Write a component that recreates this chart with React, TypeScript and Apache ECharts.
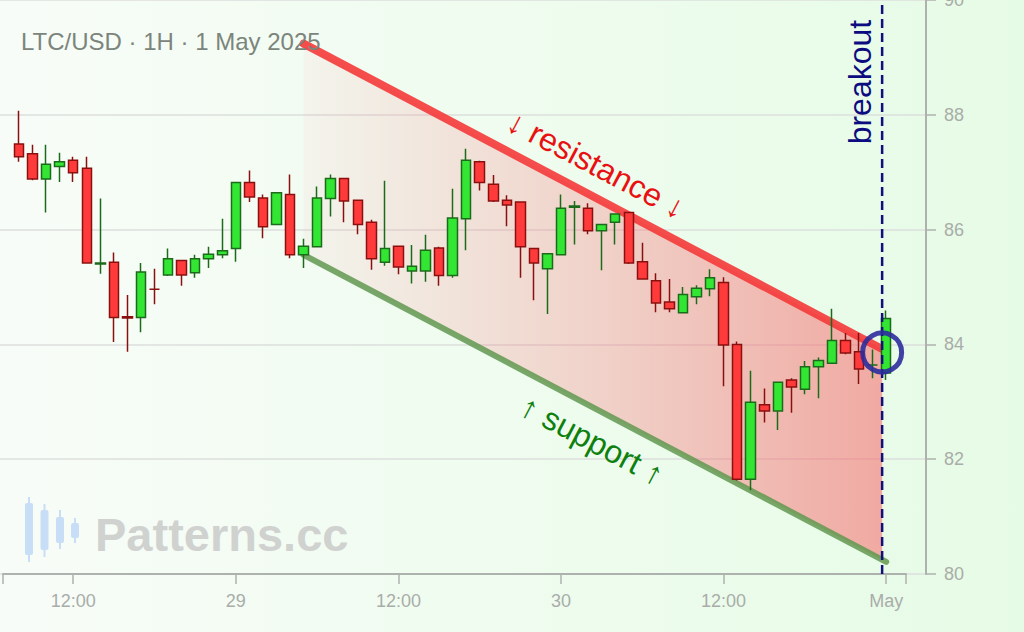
import React, { useEffect, useRef } from 'react'
import * as echarts from 'echarts'

// hourly candles, first one is 28 Apr 2025 08:00 (local time)
const START = new Date(2025, 3, 28, 8, 0, 0).getTime()
const HOUR = 3600 * 1000

const opens = [
  87.49, 87.32, 86.88, 87.10, 87.21, 87.07, 85.40, 85.43, 84.48, 84.47,
  84.96, 85.21, 85.46, 85.25, 85.49, 85.56, 85.67, 86.82, 86.55, 86.09,
  86.61, 85.56, 85.70, 86.54, 86.89, 86.51, 86.13, 85.43, 85.71, 85.28,
  85.28, 85.68, 85.20, 86.19, 87.18, 86.79, 86.51, 86.48, 85.67, 85.32,
  85.56, 86.39, 86.37, 85.98, 86.13, 86.30, 85.44, 85.11, 84.74, 84.55,
  84.83, 84.97, 85.08, 84.00, 81.65, 82.95, 82.84, 83.38, 83.22, 83.61,
  83.67, 84.07, 83.87, 83.64, 83.50,
]
const closes = [
  87.27, 86.88, 87.14, 87.18, 86.99, 85.42, 85.42, 84.47, 84.46, 85.26,
  84.96, 85.49, 85.21, 85.49, 85.57, 85.63, 86.82, 86.57, 86.05, 86.64,
  85.56, 85.71, 86.55, 86.89, 86.50, 86.09, 85.49, 85.67, 85.35, 85.36,
  85.64, 85.20, 86.20, 87.21, 86.82, 86.50, 86.43, 85.70, 85.42, 85.58,
  86.37, 86.41, 85.98, 86.09, 86.27, 85.42, 85.14, 84.72, 84.62, 84.87,
  84.98, 85.16, 83.99, 81.65, 82.99, 82.84, 83.34, 83.26, 83.61, 83.72,
  84.07, 83.85, 83.57, 83.64, 84.45,
]
const lows = [
  87.18, 86.86, 86.30, 86.83, 86.83, 85.42, 85.23, 84.04, 83.87, 84.21,
  84.70, 85.19, 85.02, 85.16, 85.33, 85.50, 85.44, 86.48, 85.85, 86.09,
  85.50, 85.33, 85.70, 86.23, 86.13, 85.92, 85.30, 85.37, 85.22, 85.06,
  85.09, 85.02, 85.16, 85.64, 86.68, 86.48, 86.06, 85.16, 84.77, 84.53,
  85.56, 85.74, 85.92, 85.29, 85.74, 85.40, 85.13, 84.56, 84.56, 84.55,
  84.70, 84.84, 83.27, 81.63, 81.46, 82.64, 82.51, 82.81, 83.13, 83.06,
  83.66, 83.83, 83.31, 83.41, 83.38,
]
const highs = [
  88.07, 87.48, 87.48, 87.34, 87.27, 87.27, 86.54, 85.60, 84.86, 85.42,
  85.32, 85.67, 85.46, 85.56, 85.70, 86.19, 86.82, 87.03, 86.61, 86.64,
  86.96, 85.84, 86.75, 86.96, 86.89, 86.51, 86.17, 86.85, 85.71, 85.73,
  85.91, 85.70, 86.71, 87.41, 87.20, 86.95, 86.60, 86.48, 85.67, 85.59,
  86.61, 86.50, 86.46, 86.09, 86.28, 86.30, 85.77, 85.24, 85.14, 85.00,
  85.03, 85.31, 85.17, 84.05, 83.54, 83.23, 83.34, 83.41, 83.71, 83.77,
  84.62, 84.20, 84.20, 83.91, 84.59,
]

// x-axis labels every 12 hours (candle index)
const xTickIdx = [4, 16, 28, 40, 52, 64]

// channel lines: [candle index, price]
const resistance = [[21, 89.24], [63.7, 83.92]]
const support = [[21, 85.56], [64, 80.21]]
// shaded channel, clockwise
const channelFill = [[21, 89.24], [63.7, 83.92], [63.7, 80.25], [21, 85.56]]
const breakoutIndex = 63.7
const breakoutPoint = [63.7, 83.86]

// annotation texts: [candle index, price]
const resistanceLabel = [42.6, 87.13]
const supportLabel = [42.3, 82.33]
const breakoutLabel = [62.1, 88.57]

const yMin = 80
const yMax = 90
const yStep = 2

const FONT = "'Liberation Sans', Arial, sans-serif"
const AXIS_GREY = '#aeb2ae'
const at = (idx: number) => START + idx * HOUR

const fmtTime = (idx: number) => {
  const d = new Date(at(Math.round(idx)))
  if (d.getHours() === 0) {
    if (d.getDate() === 1) return d.toLocaleString('en-US', { month: 'short' })
    return String(d.getDate())
  }
  return String(d.getHours()).padStart(2, '0') + ':00'
}

export default function App() {
  const chartRef = useRef<HTMLDivElement>(null)

  useEffect(() => {
    document.body.style.margin = '0'
    if (!chartRef.current) return
    const chart = echarts.init(chartRef.current, null, { renderer: 'svg' })

    const candles = opens.map((o, i) => [at(i), o, closes[i], lows[i], highs[i]])

    // both x axes use the same scale: 13.55 px per hourly candle, candle 0 at x=19
    const pxPerHour = 13.55
    const firstX = 19
    const visMin = -(firstX - 3) / pxPerHour
    const visMax = (906 - firstX) / pxPerHour

    const option = {
      animation: false,
      backgroundColor: 'transparent',
      textStyle: { fontFamily: FONT },
      title: {
        text: 'LTC/USD · 1H · 1 May 2025',
        left: 21,
        top: 29,
        padding: 0,
        textStyle: { fontSize: 24, fontWeight: 'normal', color: '#7b857b', fontFamily: FONT },
      },
      graphic: [
        {
          type: 'group',
          silent: true,
          children: [
            { type: 'rect', shape: { x: 28, y: 497, width: 2, height: 65 }, style: { fill: '#c8def6' } },
            { type: 'rect', shape: { x: 25, y: 503, width: 8, height: 52, r: 2 }, style: { fill: '#c8def6' } },
            { type: 'rect', shape: { x: 43.5, y: 504, width: 2, height: 53 }, style: { fill: '#c8def6' } },
            { type: 'rect', shape: { x: 40.5, y: 510, width: 8, height: 40, r: 2 }, style: { fill: '#c8def6' } },
            { type: 'rect', shape: { x: 59, y: 510, width: 2, height: 39 }, style: { fill: '#c8def6' } },
            { type: 'rect', shape: { x: 56, y: 517, width: 8, height: 26, r: 2 }, style: { fill: '#c8def6' } },
            { type: 'rect', shape: { x: 74, y: 518, width: 2, height: 25 }, style: { fill: '#c8def6' } },
            { type: 'rect', shape: { x: 71, y: 523, width: 8, height: 15, r: 2 }, style: { fill: '#c8def6' } },
          ],
        },
        {
          type: 'text',
          silent: true,
          x: 95,
          y: 534,
          style: {
            text: 'Patterns.cc',
            font: `bold 47px ${FONT}`,
            fill: '#d0d2d0',
            verticalAlign: 'middle',
          },
        },
      ],
      grid: [
        { left: 0, right: 98, top: 0, bottom: 58, outerBoundsMode: 'none' },
        { left: 3, right: 118, top: 0, bottom: 58, outerBoundsMode: 'none' },
      ],
      xAxis: [
        {
          type: 'time',
          gridIndex: 0,
          min: START - (firstX / pxPerHour) * HOUR,
          max: START + ((926 - firstX) / pxPerHour) * HOUR,
          show: false,
        },
        {
          type: 'value',
          gridIndex: 1,
          min: visMin,
          max: visMax,
          axisLine: { lineStyle: { color: AXIS_GREY, width: 2 } },
          axisTick: {
            show: true,
            length: 10,
            customValues: [visMin, ...xTickIdx, visMax],
            lineStyle: { color: AXIS_GREY, width: 1.5 },
          },
          splitLine: { show: false },
          axisLabel: {
            fontSize: 18,
            color: '#a9ada9',
            margin: 18,
            fontFamily: FONT,
            customValues: xTickIdx,
            formatter: (value: number) => fmtTime(value),
          },
        },
      ],
      yAxis: [
        {
          type: 'value',
          gridIndex: 0,
          position: 'right',
          min: yMin,
          max: yMax,
          interval: yStep,
          axisLine: { show: true, lineStyle: { color: AXIS_GREY, width: 2 } },
          axisTick: { show: true, length: 10, lineStyle: { color: AXIS_GREY, width: 1.5 } },
          axisLabel: { fontSize: 18, color: '#a9ada9', margin: 18, fontFamily: FONT },
          splitLine: { show: true, lineStyle: { color: '#dcdfdc', width: 1.5 } },
        },
        { type: 'value', gridIndex: 1, min: yMin, max: yMax, show: false },
      ],
      series: [
        {
          type: 'custom',
          xAxisIndex: 0,
          yAxisIndex: 0,
          silent: true,
          z: 1,
          data: [[at(21), 85]],
          renderItem: (_params: any, api: any) => ({
            type: 'polygon',
            shape: { points: channelFill.map(p => api.coord([at(p[0]), p[1]])) },
            style: {
              fill: new echarts.graphic.LinearGradient(0, 0, 1, 0, [
                { offset: 0, color: 'rgba(248,95,105,0.05)' },
                { offset: 0.5, color: 'rgba(248,92,100,0.26)' },
                { offset: 1, color: 'rgba(248,88,92,0.5)' },
              ]),
            },
          }),
        },
        {
          type: 'line',
          xAxisIndex: 0,
          yAxisIndex: 0,
          silent: true,
          z: 2,
          symbol: 'none',
          data: support.map(p => [at(p[0]), p[1]]),
          lineStyle: { color: 'rgba(98,152,80,0.85)', width: 6, cap: 'round' },
        },
        {
          type: 'line',
          xAxisIndex: 0,
          yAxisIndex: 0,
          silent: true,
          z: 2,
          symbol: 'none',
          data: resistance.map(p => [at(p[0]), p[1]]),
          lineStyle: { color: 'rgba(244,58,58,0.9)', width: 8, cap: 'round' },
        },
        {
          type: 'candlestick',
          xAxisIndex: 0,
          yAxisIndex: 0,
          z: 3,
          barWidth: 10,
          data: candles,
          itemStyle: {
            color: '#33e633',
            color0: '#ff3a3a',
            borderColor: '#1b6b1b',
            borderColor0: '#8a1010',
            borderWidth: 1.5,
          },
        },
        {
          type: 'line',
          xAxisIndex: 0,
          yAxisIndex: 0,
          silent: true,
          z: 4,
          symbol: 'none',
          data: [[at(breakoutIndex), yMin], [at(breakoutIndex), yMax]],
          lineStyle: { color: '#10107a', width: 2.5, type: [9, 5] },
        },
        {
          type: 'scatter',
          xAxisIndex: 0,
          yAxisIndex: 0,
          silent: true,
          z: 5,
          symbol: 'circle',
          symbolSize: 39,
          data: [[at(breakoutPoint[0]), breakoutPoint[1]]],
          itemStyle: { color: 'transparent', borderColor: 'rgba(44,44,156,0.9)', borderWidth: 5, opacity: 1 },
        },
        {
          type: 'scatter',
          xAxisIndex: 0,
          yAxisIndex: 0,
          silent: true,
          z: 6,
          symbolSize: 1,
          itemStyle: { color: 'transparent', opacity: 1 },
          data: [
            {
              value: [at(resistanceLabel[0]), resistanceLabel[1]],
              label: { formatter: '↓ resistance ↓', rotate: -27.8, color: '#e81010' },
            },
            {
              value: [at(supportLabel[0]), supportLabel[1]],
              label: { formatter: '↑ support ↑', rotate: -27.8, color: '#0e800e' },
            },
            {
              value: [at(breakoutLabel[0]), breakoutLabel[1]],
              label: { formatter: 'breakout', rotate: 90, color: '#0c0c80' },
            },
          ],
          label: {
            show: true,
            position: 'inside',
            align: 'center',
            verticalAlign: 'middle',
            fontSize: 32,
            opacity: 1,
            fontFamily: FONT,
          },
        },
      ],
    }

    chart.setOption(option as any)

    return () => {
      chart.dispose()
    }
  }, [])

  return (
    <div
      ref={chartRef}
      style={{
        width: '1024px',
        height: '632px',
        background: 'linear-gradient(90deg, #f8fcf8 0%, #eefcee 55%, #e6fbe6 100%)',
      }}
    />
  )
}
